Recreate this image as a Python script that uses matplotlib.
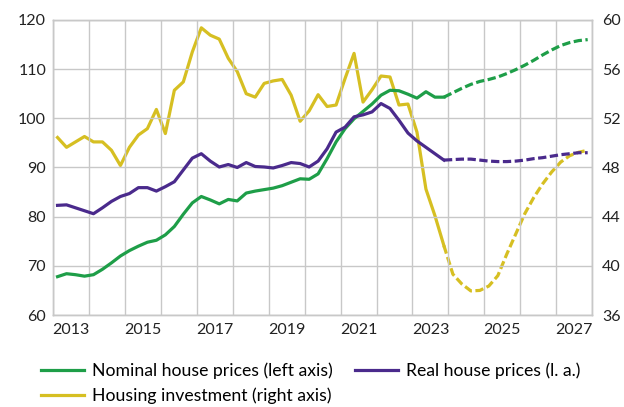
import matplotlib
matplotlib.use("Agg")
import matplotlib.pyplot as plt
import numpy as np

green = '#1E9E48'
purple = '#4A2A8C'
yellow = '#D6BF22'
grid_grey = '#C8C8C8'

plt.rcParams['font.family'] = ['Lato', 'DejaVu Sans']

# quarterly data 2013Q1 .. 2027Q4, forecast starts after 2023Q4
quarters = 2013 + (np.arange(60) + 0.5) / 4
last_actual = 43

nominal = [67.8, 68.4, 68.2, 67.9, 68.2, 69.3, 70.6, 72.0, 73.1, 74.0, 74.8, 75.2,
           76.3, 78.0, 80.5, 82.8, 84.1, 83.4, 82.6, 83.5, 83.2, 84.8, 85.2, 85.5,
           85.8, 86.3, 87.0, 87.7, 87.6, 88.7, 91.8, 95.2, 97.9, 99.9, 101.4, 102.9,
           104.7, 105.7, 105.6, 104.9, 104.1, 105.4, 104.3, 104.3,
           105.2, 106.1, 106.9, 107.5, 107.9, 108.4, 109.1, 109.9, 110.8, 111.8,
           112.9, 113.9, 114.8, 115.4, 115.8, 116.0]

real = [82.3, 82.4, 81.8, 81.2, 80.6, 81.8, 83.1, 84.1, 84.7, 85.9, 85.9, 85.2,
        86.1, 87.1, 89.5, 91.9, 92.8, 91.3, 90.1, 90.6, 90.0, 91.0, 90.2, 90.1,
        89.9, 90.4, 91.0, 90.8, 90.1, 91.3, 93.8, 97.2, 98.2, 100.3, 100.7, 101.3,
        103.0, 102.0, 99.6, 97.0, 95.4, 94.1, 92.8, 91.5,
        91.6, 91.7, 91.7, 91.5, 91.3, 91.2, 91.2, 91.3, 91.5, 91.8,
        92.0, 92.3, 92.6, 92.8, 93.0, 93.0]

investment = [50.44, 49.64, 50.08, 50.52, 50.08, 50.08, 49.40, 48.16, 49.64, 50.64,
              51.16, 52.72, 50.76, 54.28, 54.96, 57.40, 59.36, 58.76, 58.44, 56.88,
              55.80, 54.00, 53.72, 54.84, 55.04, 55.16, 53.88, 51.76, 52.60, 53.92,
              52.96, 53.08, 55.24, 57.28, 53.32, 54.32, 55.44, 55.36, 53.08, 53.16,
              50.88, 46.24, 44.08, 41.64,
              39.32, 38.52, 37.96, 38.00, 38.36, 39.20, 40.96, 42.60, 44.24, 45.56,
              46.68, 47.64, 48.44, 48.96, 49.24, 49.40]

years = list(range(2013, 2029))
year_labels = ['2013', '2015', '2017', '2019', '2021', '2023', '2025', '2027']

fig = plt.figure(figsize=(6.24, 4.07), dpi=100)
ax = fig.add_axes([0.085, 0.226, 0.864, 0.725])
ax2 = ax.twinx()

lw = 2.3
dash = (2.6, 1.1)
a = last_actual + 1

h_nom, = ax.plot(quarters[:a], nominal[:a], color=green, lw=lw, zorder=3)
ax.plot(quarters[last_actual:], nominal[last_actual:], color=green, lw=lw,
        dashes=dash, zorder=3)
h_real, = ax.plot(quarters[:a], real[:a], color=purple, lw=lw, zorder=4)
ax.plot(quarters[last_actual:], real[last_actual:], color=purple, lw=lw,
        dashes=dash, zorder=4)
h_inv, = ax2.plot(quarters[:a], investment[:a], color=yellow, lw=lw)
ax2.plot(quarters[last_actual:], investment[last_actual:], color=yellow, lw=lw,
         dashes=dash)

# draw left-axis lines above the twin axis
ax.set_zorder(ax2.get_zorder() + 1)
ax.patch.set_visible(False)

ax.set_xlim(2013, 2028)
ax.set_ylim(60, 120)
ax2.set_ylim(36, 60)
ax.set_yticks(np.arange(60, 121, 10))
ax2.set_yticks(np.arange(36, 61, 4))

ax.set_xticks(years)
ax.set_xticklabels([])
ax.set_xticks([int(y) + 0.5 for y in year_labels], minor=True)
ax.set_xticklabels(year_labels, minor=True)

for a_ in (ax, ax2):
    a_.tick_params(axis='both', which='both', length=0, labelsize=11.5,
                   colors='#222222')
    for s in a_.spines.values():
        s.set_color(grid_grey)
        s.set_linewidth(1)
ax.tick_params(axis='x', which='minor', pad=6)
ax.tick_params(axis='y', pad=5)
ax2.tick_params(axis='y', pad=7)

ax2.grid(False)
ax.grid(True, which='major', color=grid_grey, lw=1)

fig.legend([h_nom, h_inv, h_real],
           ['Nominal house prices (left axis)', 'Housing investment (right axis)',
            'Real house prices (l. a.)'],
           ncol=2, loc='lower left', bbox_to_anchor=(0.04, -0.032),
           frameon=False, fontsize=12.7, handlelength=2.45, handletextpad=0.45,
           columnspacing=1.25, labelspacing=0.5)

fig.savefig('out.png', dpi=100)
